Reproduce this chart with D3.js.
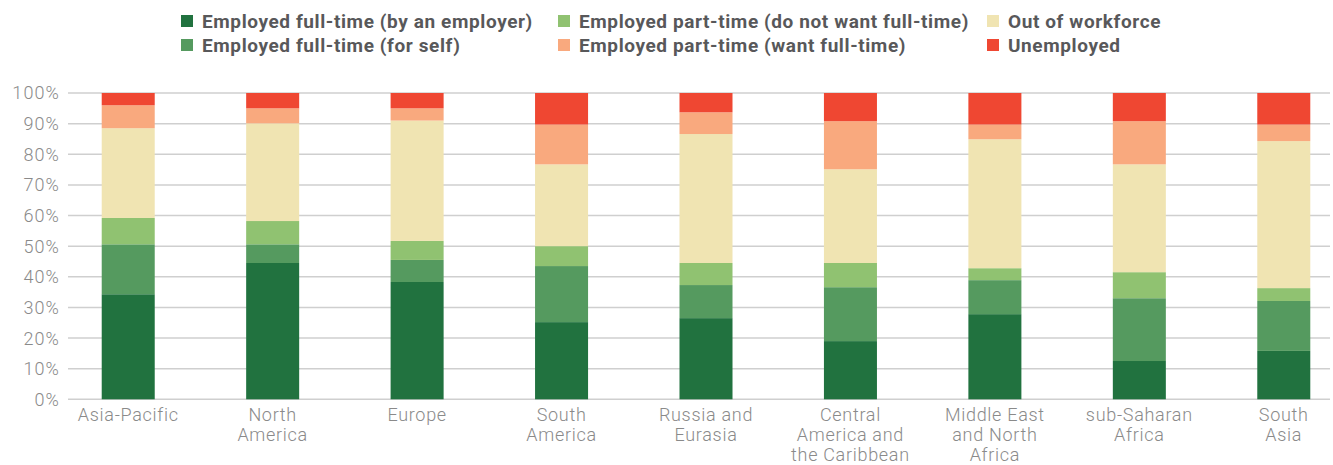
<!DOCTYPE html>
<html>
<head>
<meta charset="utf-8">
<script src="https://cdn.jsdelivr.net/npm/d3@7"></script>
<style>
  body { margin: 0; background: #fff; }
  text { font-family: Roboto, "Noto Sans", sans-serif; }
</style>
</head>
<body>
<div id="chart"></div>
<script>
const width = 1333, height = 465;

const regions = [
  ["Asia-Pacific"],
  ["North", "America"],
  ["Europe"],
  ["South", "America"],
  ["Russia and", "Eurasia"],
  ["Central", "America and", "the Caribbean"],
  ["Middle East", "and North", "Africa"],
  ["sub-Saharan", "Africa"],
  ["South", "Asia"]
];

const seriesNames = [
  "Employed full-time (by an employer)",
  "Employed full-time (for self)",
  "Employed part-time (do not want full-time)",
  "Employed part-time (want full-time)",
  "Out of workforce",
  "Unemployed"
];

const colors = ["#21723f", "#559a5f", "#90c271", "#f9a97e", "#f0e4b2", "#ef4732"];

// values in %, per region, in stack order
const byEmployer  = [34.3, 44.5, 38.3, 25.2, 26.5, 19.0, 27.8, 12.5, 15.8];
const forSelf     = [16.3,  6.1,  7.2, 18.3, 10.8, 17.6, 11.1, 20.5, 16.3];
const ptNoWant    = [ 8.6,  7.6,  6.2,  6.5,  7.2,  7.9,  3.9,  8.5,  4.2];
const outWork     = [29.3, 31.9, 39.3, 26.7, 42.1, 30.6, 42.1, 35.2, 48.0];
const ptWant      = [ 7.5,  4.9,  4.0, 13.0,  7.1, 15.7,  4.8, 14.1,  5.4];
const unemployed  = [ 4.0,  5.0,  5.0, 10.3,  6.3,  9.2, 10.3,  9.2, 10.3];

const yTicks = [0, 10, 20, 30, 40, 50, 60, 70, 80, 90, 100];

// stack order bottom to top
const stackSeries = [
  { name: seriesNames[0], color: colors[0], values: byEmployer },
  { name: seriesNames[1], color: colors[1], values: forSelf },
  { name: seriesNames[2], color: colors[2], values: ptNoWant },
  { name: seriesNames[4], color: colors[4], values: outWork },
  { name: seriesNames[3], color: colors[3], values: ptWant },
  { name: seriesNames[5], color: colors[5], values: unemployed }
];

const rows = regions.map((r, i) => {
  let o = { key: i };
  stackSeries.forEach((s, j) => { o["s" + j] = s.values[i]; });
  return o;
});

const svg = d3.select("#chart").append("svg")
  .attr("width", width).attr("height", height);

const x = d3.scaleBand()
  .domain(regions.map((r, i) => i))
  .range([56, 1356])
  .paddingInner(0.633)
  .paddingOuter(0.3165);

const y = d3.scaleLinear().domain([0, 100]).range([399.3, 93]);

// gridlines
svg.append("g")
  .selectAll("line")
  .data(yTicks)
  .join("line")
  .attr("x1", 68).attr("x2", 1330)
  .attr("y1", d => y(d)).attr("y2", d => y(d))
  .attr("stroke", "#cfcfcf")
  .attr("stroke-width", 1.5);

// y tick labels
svg.append("g")
  .selectAll("text")
  .data(yTicks)
  .join("text")
  .attr("x", 60)
  .attr("y", d => y(d))
  .attr("dy", "0.36em")
  .attr("text-anchor", "end")
  .attr("fill", "#8a8a8a")
  .style("font-size", "18px")
  .style("letter-spacing", "1.1px")
  .style("font-weight", 300)
  .text(d => d + "%");

const stack = d3.stack().keys(stackSeries.map((s, j) => "s" + j));
const stacked = stack(rows);

svg.append("g")
  .selectAll("g")
  .data(stacked)
  .join("g")
  .attr("fill", (d, j) => stackSeries[j].color)
  .selectAll("rect")
  .data(d => d)
  .join("rect")
  .attr("x", d => x(d.data.key))
  .attr("width", x.bandwidth())
  .attr("y", d => y(d[1]))
  .attr("height", d => y(d[0]) - y(d[1]));

// category labels
const cat = svg.append("g")
  .selectAll("text")
  .data(regions)
  .join("text")
  .attr("x", (d, i) => x(i) + x.bandwidth() / 2)
  .attr("y", 421)
  .attr("text-anchor", "middle")
  .attr("fill", "#8a8a8a")
  .style("font-size", "18px")
  .style("letter-spacing", "0.7px")
  .style("font-weight", 300);

cat.selectAll("tspan")
  .data(d => d)
  .join("tspan")
  .attr("x", function () { return d3.select(this.parentNode).attr("x"); })
  .attr("dy", (d, k) => k === 0 ? 0 : 20)
  .text(d => d);

// legend
const legendItems = [
  { name: seriesNames[0], color: colors[0], col: 0, row: 0 },
  { name: seriesNames[1], color: colors[1], col: 0, row: 1 },
  { name: seriesNames[2], color: colors[2], col: 1, row: 0 },
  { name: seriesNames[3], color: colors[3], col: 1, row: 1 },
  { name: seriesNames[4], color: colors[4], col: 2, row: 0 },
  { name: seriesNames[5], color: colors[5], col: 2, row: 1 }
];
const colX = [181, 558, 987];

const lg = svg.append("g")
  .selectAll("g")
  .data(legendItems)
  .join("g")
  .attr("transform", d => `translate(${colX[d.col]}, ${21 + d.row * 24})`);

lg.append("rect")
  .attr("x", 0).attr("y", -6)
  .attr("width", 12).attr("height", 12)
  .attr("fill", d => d.color);

lg.append("text")
  .attr("x", 21)
  .attr("dy", "0.36em")
  .attr("fill", "#58585a")
  .style("font-size", "19px")
  .style("letter-spacing", "0.6px")
  .style("font-weight", 700)
  .text(d => d.name);
</script>
</body>
</html>
